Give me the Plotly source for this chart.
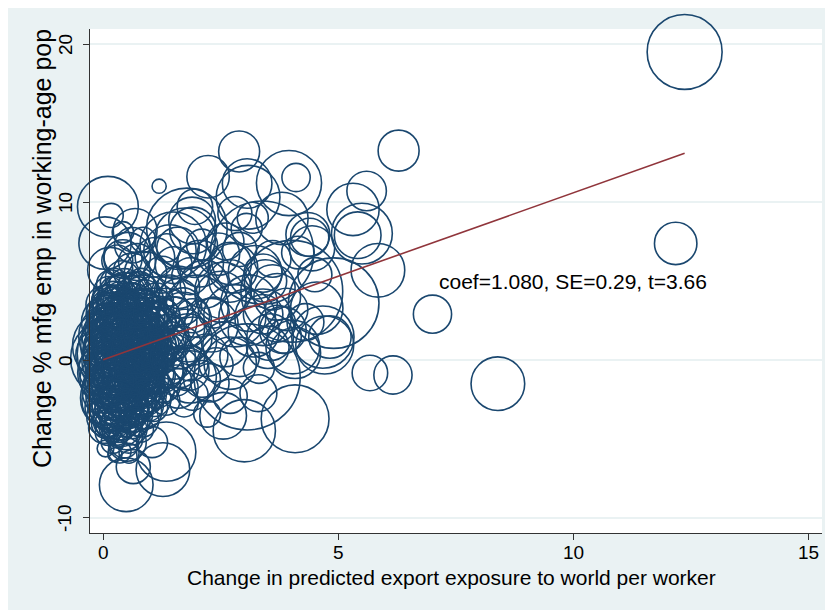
import plotly.graph_objects as go

# ---- data ----
# change in predicted export exposure per worker
exposure = [
    12.36, 12.17, 8.39, 7.0, 6.28, 5.67, 6.16, 5.84, 5.31, 5.6, 5.5, 5.41,
    4.9, 4.01, 4.67, 4.54, 4.82, 4.71, 4.08, 4.03, 3.31, 3.06, 4.08, 3.0,
    2.55, 2.21, 1.72, 1.34, 1.27, 0.64, 0.49, 3.95, 4.1, 2.89, 2.23, 3.06,
    3.08, 2.8, 3.18, 3.8, 3.38, 2.76, 3.23, 4.39, 4.14, 4.35, 4.44,
    1.49, 1.74, 1.59, 1.91, 1.89, 1.78, 1.95, 1.19, 0.1, 0.17, 0.68, 0.42,
    0.04, 0.51, 0.62, 0.15,
    # core
    0.02, 0.05, 0.08, 0.03, 0.06, 0.1, 0.04, 0.09, 0.07, 0.12, 0.0, 0.11,
    0.15, 0.18, 0.2, 0.22, 0.17, 0.25, 0.28, 0.3, 0.24, 0.16, 0.27, 0.21, 0.29, 0.19,
    0.35, 0.38, 0.4, 0.33, 0.42, 0.45, 0.48, 0.36, 0.5, 0.44, 0.47, 0.39, 0.41, 0.49,
    0.55, 0.58, 0.6, 0.62, 0.65, 0.57, 0.68, 0.7, 0.63, 0.66, 0.59, 0.69, 0.54, 0.61,
    0.75, 0.78, 0.8, 0.83, 0.85, 0.88, 0.9, 0.92, 0.77, 0.95, 0.82, 0.87, 0.93,
    1.0, 1.03, 1.05, 1.08, 1.1, 1.12, 1.15, 1.18, 1.02, 1.2, 1.07,
    1.25, 1.3, 1.35, 1.4, 1.45, 1.5, 1.55, 1.6, 1.28, 1.42, 1.33,
    0.05, 0.1, 0.14, 0.2, 0.26, 0.31, 0.34, 0.37, 0.43, 0.46, 0.52, 0.53, 0.56,
    0.64, 0.67, 0.72, 0.74, 0.79, 0.84, 0.86, 0.97, 0.99, 1.04, 1.13, 0.02, 0.08,
    0.13, 0.23, 0.3, 0.18, 0.28, 0.44, 0.52, 0.6, 0.71, 0.76, 0.9, 0.96, 0.4,
    0.25, 0.12, 0.35, 0.58, 0.7, 0.81,
    # dense core, second layer
    0.06, 0.09, 0.13, 0.11, 0.16, 0.19, 0.22, 0.24, 0.26, 0.29, 0.32, 0.34,
    0.36, 0.38, 0.41, 0.43, 0.46, 0.48, 0.51, 0.53, 0.56, 0.58, 0.61, 0.63,
    0.66, 0.69, 0.72, 0.74, 0.77, 0.8, 0.83, 0.86, 0.89, 0.91, 0.94, 0.98,
    1.01, 1.06, 1.09, 1.14, 1.17, 1.22, 1.27, 1.32, 1.37, 0.04, 0.14, 0.27,
    0.39, 0.52, 0.67, 0.84, 0.05, 0.19, 0.32, 0.45, 0.58, 0.71, 0.88, 0.98,
    0.12, 0.24, 0.46, 0.02, 0.28, 0.62, 0.15, 0.33, 0.5, 0.07, 0.2, 0.42,
    0.65, 0.3, 0.55,
    # dense core, third layer
    0.03, 0.07, 0.1, 0.14, 0.18, 0.21, 0.25, 0.28, 0.31, 0.35, 0.38, 0.42,
    0.45, 0.49, 0.53, 0.57, 0.6, 0.64, 0.68, 0.72, 0.76, 0.8, 0.85, 0.9,
    0.95, 1.0, 1.05, 1.1,
    0.01, 0.05, 0.09, 0.13, 0.17, 0.22, 0.27, 0.33, 0.37, 0.43, 0.47, 0.52,
    0.57, 0.62, 0.67, 0.73, 0.78, 0.84, 0.9, 0.96, 1.02, 1.08,
    # lower lobe
    0.1, 0.2, 0.3, 0.45, 0.05, 0.35, 0.6, 0.15, 0.8, 0.25, 0.55, 0.08, 0.4,
    0.3, 0.7, 1.04, 0.51,
    # upper fringe
    0.72, 0.9, 1.1, 1.25, 0.3, 0.85, 0.42, 1.42,
    # middle ring
    1.7, 1.9, 2.0, 2.2, 2.3, 2.5, 2.6, 2.8, 2.9, 1.8, 2.1, 2.4, 1.6, 1.85,
    2.15, 2.7, 3.1, 3.2, 3.4, 3.5, 3.6, 3.7, 3.9, 3.3, 2.7, 1.9, 1.6, 2.35,
    1.95, 2.45, 2.1, 2.6, 1.5, 1.35, 2.9, 3.05, 3.6, 3.45, 4.3, 4.5, 3.85,
    2.06, 2.7, 2.55, 3.06, 3.7, 3.55, 2.7, 2.27, 1.85, 3.4, 3.4, 3.82,
    1.65, 1.75, 1.85, 1.7, 1.55, 1.8, 1.62, 1.9, 1.48, 1.38,
]
# change in manufacturing employment share of working-age population (%)
mfg_change = [
    19.5, 7.38, -1.5, 2.9, 13.25, -0.82, -0.95, 5.68, 9.53, 10.7, 8.0, 7.9,
    3.6, 4.35, 1.45, 3.28, 1.45, 0.95, 0.44, 0.82, -0.5, -1.07, -3.72, -4.48,
    -3.53, -3.4, -2.71, -5.8, -6.94, -6.75, -7.9, 11.2, 11.55, 13.2, 11.6, 11.17,
    10.3, 9.27, 9.0, 8.96, 6.8, 5.8, 5.55, 7.76, 6.8, 7.95, 7.07,
    7.26, 7.7, 7.07, 8.2, 8.83, 8.33, 9.7, 11.0, 9.7, 9.15, 8.2, 8.08,
    7.4, 6.6, 7.26, 5.7,
    # core
    0.3, -1.2, 1.8, 2.9, -2.6, 0.9, -0.4, 3.8, -3.6, -0.8, 1.2, 2.4,
    0.1, -1.9, 1.5, 3.1, -3.1, -0.5, 2.2, 4.2, -4.2, 4.8, 0.7, -2.4, -1.3, 2.6,
    0.4, -1.0, 1.9, 3.4, -2.8, 0.0, 2.8, -3.9, -1.8, 4.1, 1.1, -0.3, 5.2, -4.6,
    0.8, -0.9, 2.4, -2.5, 3.6, 1.6, 0.2, -1.6, 4.6, -3.4, -0.1, 2.0, -5.0, 5.6,
    1.2, -0.5, 2.9, -2.0, 0.4, 3.9, 1.7, -1.1, 4.5, -2.9, -3.8, 2.3, 0.9,
    0.6, 2.2, -0.8, 3.3, 1.4, -1.9, 0.0, 2.7, 4.3, -0.6, -3.0,
    1.9, 0.5, 3.2, -0.4, 2.4, 1.1, -1.3, 3.9, -1.6, 4.4, -2.6,
    0.6, -1.7, 1.0, -0.2, 1.2, -2.1, 2.5, 1.3, -1.4, 3.3, 0.3, -3.3, 3.1,
    1.1, -0.7, 2.6, -2.6, 0.9, -1.3, 3.4, 2.5, -0.2, 1.0, 3.8, -2.0, 3.4,
    -4.0, 3.9, -3.5, 0.5, -0.9, 0.7, 1.7, -1.5, 0.6, -1.1, 0.0, 1.3, -2.2,
    2.6, 1.6, 4.6, 4.0, 3.3, 5.0,
    # dense core, second layer
    1.5, -0.1, 2.0, -2.2, -0.9, 1.1, -1.5, 0.3, -2.9, 1.7, -0.6, 0.9,
    -1.7, 2.3, -0.8, 1.5, -2.4, 0.4, -0.7, 2.1, -1.9, 1.2, 0.0, -1.1,
    1.8, -0.3, 1.0, -1.8, 0.2, 1.6, -0.6, 0.8, 2.7, -1.7, 0.3, 1.8,
    -1.3, 0.2, 2.6, 1.0, -1.0, 0.9, 2.8, -0.7, 0.9, 3.5, 3.6, 3.5,
    3.8, 3.7, 4.2, 4.3, -3.0, -3.8, -4.1, -3.6, -3.0, -2.9, -3.3, -2.2,
    4.3, 4.9, 4.8, -4.3, -4.5, -4.0, 2.9, -3.2, 3.0, 2.3, 0.9, 0.1,
    0.9, -1.3, -1.2,
    # dense core, third layer
    0.8, -1.6, 2.6, -0.3, 3.0, -2.7, 1.3, -1.1, 3.3, -0.1, -2.3, 2.7,
    1.7, -0.6, -2.0, 2.6, 0.6, 3.0, -1.3, -0.8, 2.0, -2.3, 1.1, 2.2,
    -0.4, 1.5, -1.5, 0.4,
    -0.6, 2.0, -2.9, 0.4, -1.4, 2.1, 0.0, -2.6, 1.0, 3.1, -1.2, -0.2,
    -3.1, 2.0, 0.6, -0.1, 3.4, 1.9, -2.4, 0.7, 3.0, -2.5,
    # lower lobe
    -4.6, -5.2, -4.9, -5.3, -5.6, -5.8, -4.4, -3.5, -4.4, -6.0, -5.9, -4.0, -4.3,
    -2.9, -3.9, -5.2, -5.2,
    # upper fringe
    6.2, 5.5, 6.5, 5.4, 6.3, 7.6, 6.4, 6.9,
    # middle ring
    2.5, 1.2, 3.4, 0.3, 2.2, 4.0, 1.0, 2.8, 0.2, -0.6, -1.2, -0.3, 4.6, 5.3,
    4.8, 5.0, 3.6, 1.8, 2.9, 0.8, 4.6, 2.3, 3.2, -2.1, -2.3, -2.2, -1.8, 3.0,
    6.3, 6.7, 7.3, 7.5, 6.0, 7.1, 7.0, 8.3, 6.4, 5.0, 2.4, 5.4, 1.5,
    6.1, 6.1, 4.4, 2.7, 4.0, 1.45, -0.2, -1.45, -1.07, 5.5, 2.7, 1.9,
    0.8, 2.0, -0.2, 3.4, 2.9, 1.4, -0.5, 2.8, 0.2, 1.6,
]
# population weight of each commuting zone (arbitrary units)
pop_weight = [
    28.1, 9.0, 14.4, 7.3, 8.4, 6.3, 7.3, 14.4, 13.7, 7.8, 18.5, 10.9,
    41.0, 51.8, 19.4, 13.7, 9.0, 16.8, 13.0, 14.4, 4.8, 56.3, 23.0, 19.4,
    10.9, 3.6, 4.0, 17.6, 14.4, 5.8, 14.4, 21.2, 4.0, 8.4, 9.0, 12.3,
    20.3, 5.8, 4.8, 13.7, 53.3, 12.3, 14.4, 7.3, 5.3, 9.6, 10.2,
    22.1, 18.5, 9.0, 10.9, 10.9, 32.5, 6.3, 1.0, 18.5, 2.9, 9.6, 2.3,
    13.7, 10.9, 6.3, 10.2,
    # core
    16.0, 13.0, 9.0, 6.8, 11.6, 25.0, 5.8, 4.8, 7.8, 19.4, 3.2, 14.4,
    31.4, 17.6, 23.0, 11.6, 9.0, 14.4, 7.8, 6.8, 4.8, 4.0, 10.2, 21.2, 6.8, 4.8,
    36.0, 16.0, 19.4, 9.0, 13.0, 7.8, 13.0, 6.8, 23.0, 10.2, 4.8, 4.0, 5.8, 5.8,
    27.0, 14.4, 16.0, 11.6, 7.8, 6.8, 17.6, 9.0, 4.8, 6.8, 4.0, 5.8, 4.0, 6.8,
    21.2, 13.0, 11.6, 10.2, 7.8, 6.8, 16.0, 6.8, 5.8, 4.8, 5.8, 4.0, 9.0,
    14.4, 11.6, 9.0, 7.8, 19.4, 6.8, 5.8, 9.0, 4.8, 11.6, 4.0,
    10.2, 7.8, 9.0, 6.8, 13.0, 5.8, 4.8, 7.8, 5.8, 4.8, 4.0,
    4.0, 6.8, 9.0, 5.8, 4.0, 7.8, 4.8, 11.6, 5.8, 4.0, 9.0, 7.8, 4.0,
    6.8, 4.8, 9.0, 6.8, 4.8, 4.0, 5.8, 6.8, 4.8, 4.0, 5.8, 4.8, 4.0,
    4.0, 5.8, 6.8, 11.6, 16.0, 17.6, 13.0, 16.0, 11.6, 7.8, 10.2, 7.8, 9.0,
    9.0, 6.8, 3.2, 4.0, 4.8, 3.2,
    # dense core, second layer
    11.6, 13.0, 9.0, 10.2, 12.3, 14.4, 9.6, 19.4, 8.4, 12.3, 16.0, 13.0,
    10.9, 9.0, 14.4, 10.2, 9.6, 16.8, 12.3, 10.9, 8.4, 13.7, 11.6, 9.0,
    10.2, 8.4, 12.3, 7.8, 10.2, 9.0, 8.4, 7.3, 7.8, 6.8, 8.4, 7.3,
    6.3, 7.3, 6.3, 7.3, 5.8, 6.8, 5.8, 6.3, 5.8, 7.3, 6.8, 7.8,
    6.8, 7.3, 6.3, 5.8, 8.4, 7.3, 6.3, 7.8, 6.8, 6.3, 5.8, 5.8,
    4.8, 4.0, 4.8, 4.8, 4.0, 4.8, 9.0, 9.0, 8.4, 7.3, 20.3, 25.0,
    20.3, 20.3, 19.4,
    # dense core, third layer
    9.0, 10.2, 8.4, 12.3, 7.8, 9.0, 11.6, 10.2, 7.8, 12.3, 9.0, 8.4,
    10.2, 11.6, 9.0, 7.8, 10.2, 6.8, 8.4, 9.6, 7.8, 7.3, 8.4, 6.8,
    7.3, 6.8, 6.3, 7.3,
    12.3, 8.4, 7.8, 14.4, 10.2, 9.6, 13.7, 8.4, 12.3, 7.3, 10.2, 13.0,
    7.3, 9.0, 10.9, 9.6, 6.8, 8.4, 6.3, 8.4, 6.3, 5.8,
    # lower lobe
    3.2, 2.6, 2.0, 4.0, 1.4, 2.6, 4.8, 5.8, 3.2, 1.0, 2.0, 4.8, 6.8,
    13.0, 4.0, 4.8, 7.3,
    # upper fringe
    6.8, 9.0, 7.8, 6.8, 4.8, 3.2, 7.3, 13.7,
    # middle ring
    16.0, 11.6, 19.4, 9.0, 14.4, 13.0, 10.2, 19.4, 7.8, 9.0, 6.8, 5.8, 9.0, 6.8,
    11.6, 9.0, 16.0, 13.0, 7.8, 9.0, 10.2, 6.8, 9.0, 6.8, 5.8, 4.8, 7.8, 4.8,
    5.8, 9.0, 4.8, 6.8, 6.8, 4.0, 5.8, 4.8, 6.8, 9.0, 6.8, 5.8, 5.8,
    10.9, 9.0, 16.0, 16.0, 10.9, 10.9, 13.7, 7.3, 13.7, 7.3, 16.0, 10.9,
    9.0, 7.3, 6.3, 6.8, 5.8, 11.6, 7.8, 5.8, 10.2, 8.4,
]
assert len(exposure) == len(mfg_change) == len(pop_weight), (
    len(exposure), len(mfg_change), len(pop_weight))

# fitted regression line (end points as drawn)
fit_x = [0.0, 12.36]
fit_y = [0.02, 13.08]
fit_label = "coef=1.080, SE=0.29, t=3.66"

x_ticks = [0, 5, 10, 15]
x_tick_text = ["0", "5", "10", "15"]
y_ticks = [-10, 0, 10, 20]
y_tick_text = ["-10", "0", "10", "20"]
x_title = "Change in predicted export exposure to world per worker"
y_title = "Change % mfg emp in working-age pop"

NAVY = "#1a476f"
MAROON = "#90353b"
BG = "#eaf2f3"
FONT = "Liberation Sans, Arial, sans-serif"

fig = go.Figure()
fig.add_trace(go.Scatter(
    x=exposure, y=mfg_change, mode="markers", cliponaxis=False,
    marker=dict(symbol="circle-open", size=pop_weight, sizemode="area",
                sizeref=0.01, color=NAVY, opacity=1,
                line=dict(width=1.6, color=NAVY)),
    hoverinfo="skip", showlegend=False,
))
fig.add_trace(go.Scatter(
    x=fit_x, y=fit_y, mode="lines", line=dict(color=MAROON, width=1.6),
    hoverinfo="skip", showlegend=False,
))

annotations = [
    dict(text=fit_label, x=7.1, y=4.95, xref="x", yref="y",
         xanchor="left", yanchor="middle", showarrow=False,
         font=dict(size=21)),
    dict(text=x_title, x=0.4945, y=-0.089, xref="paper", yref="paper",
         xanchor="center", yanchor="middle", showarrow=False,
         font=dict(size=21)),
    dict(text=y_title, x=-0.0656, y=0.5655, xref="paper", yref="paper",
         xanchor="center", yanchor="middle", showarrow=False,
         textangle=-90, font=dict(size=25)),
]
for v, t in zip(x_ticks, x_tick_text):
    annotations.append(dict(text=t, x=v, y=-0.0377, xref="x", yref="paper",
                            xanchor="center", yanchor="middle",
                            showarrow=False, font=dict(size=19)))
for v, t in zip(y_ticks, y_tick_text):
    annotations.append(dict(text=t, x=-0.0342, y=v, xref="paper", yref="y",
                            xanchor="center", yanchor="middle", textangle=-90,
                            showarrow=False, font=dict(size=19)))

fig.update_layout(
    width=825, height=602,
    margin=dict(l=82, r=11, t=21, b=77, autoexpand=False),
    paper_bgcolor=BG, plot_bgcolor="white",
    font=dict(family=FONT, color="#000"),
    xaxis=dict(range=[-0.28, 15.28], tickvals=x_ticks, showticklabels=False,
               showgrid=False, zeroline=False, showline=True,
               linecolor="#333", linewidth=1.2, ticks="outside", ticklen=6,
               tickcolor="#333", tickwidth=1.2, automargin=False),
    yaxis=dict(range=[-10.95, 20.95], tickvals=y_ticks, showticklabels=False,
               showgrid=True, gridcolor=BG, gridwidth=1.6, zeroline=False,
               showline=True, linecolor="#333", linewidth=1.2,
               ticks="outside", ticklen=6, tickcolor="#333", tickwidth=1.2,
               automargin=False),
    annotations=annotations,
)

fig.write_html("out.html")
